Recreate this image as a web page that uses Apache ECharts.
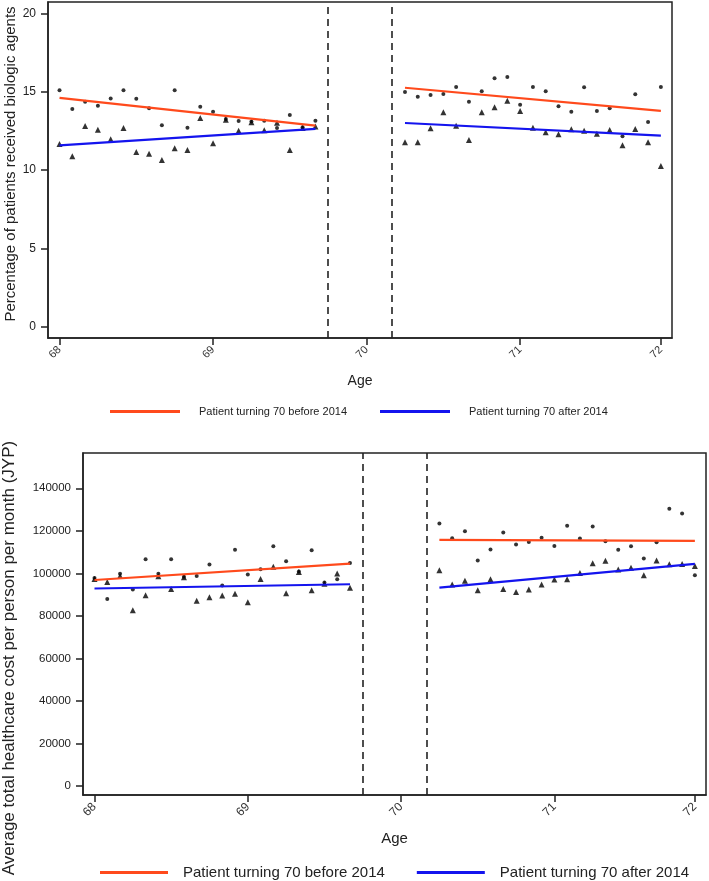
<!DOCTYPE html>
<html><head><meta charset="utf-8">
<script src="https://cdn.jsdelivr.net/npm/echarts@6/dist/echarts.min.js"></script>
<style>html,body{margin:0;padding:0;background:#fff}#c{width:709px;height:881px}</style>
</head><body><div id="c"></div>
<script>
// x values are month index since age 68 (monthly bins)
const monthsBefore = [0,1,2,3,4,5,6,7,8,9,10,11,12,13,14,15,16,17,18,19,20];
const monthsAfter = [27,28,29,30,31,32,33,34,35,36,37,38,39,40,41,42,43,44,45,46,47];
const tickPositions = [0,12,24,36,47];
const tickLabels = ['68','69','70','71','72'];
const cutoffs = [21,26];
const fitMonthsBefore = [0,20];
const fitMonthsAfter = [27,47];
const seriesNames = ['Patient turning 70 before 2014','Patient turning 70 after 2014'];

// Panel 1: percentage receiving biologic agents
const pctTicks = [0,5,10,15,20];
const pctDotBefore = [15.09,13.89,14.36,14.10,14.57,15.09,14.55,13.94,12.85,15.09,12.70,14.04,13.72,13.25,13.13,13.10,13.15,12.68,13.51,12.72,13.15];
const pctTriBefore = [11.66,10.87,12.81,12.57,11.96,12.68,11.15,11.04,10.64,11.38,11.28,13.32,11.70,13.20,12.51,13.05,12.53,13.02,11.28,12.68,12.77];
const pctDotAfter = [14.98,14.68,14.79,14.85,15.30,14.36,15.02,15.85,15.94,14.17,15.30,15.02,14.07,13.72,15.28,13.77,13.94,12.15,14.83,13.06,15.30];
const pctTriAfter = [11.77,11.77,12.66,13.68,12.83,11.91,13.68,14.00,14.42,13.77,12.70,12.41,12.28,12.60,12.51,12.32,12.55,11.58,12.62,11.77,10.26];
const pctFitOrangeBefore = [14.60,12.83];
const pctFitBlueBefore = [11.57,12.62];
const pctFitOrangeAfter = [15.25,13.77];
const pctFitBlueAfter = [13.00,12.19];

// Panel 2: average total healthcare cost
const costTicks = [0,20000,40000,60000,80000,100000,120000,140000];
const costDotBefore = [97800,88000,99800,92400,106700,99800,106700,98400,98800,104200,94300,111100,99500,102000,112800,105700,100900,110900,95700,97200,104900];
const costTriBefore = [97300,96000,98800,82700,89700,98700,92700,98200,87100,88800,89600,90400,86400,97400,103100,90700,100700,92100,95100,99900,93300];
const costDotAfter = [123500,116500,119800,106100,111200,119200,113600,114700,116700,112900,122400,116400,122000,115100,111100,112800,107000,114600,130400,128200,99100];
const costTriAfter = [101500,94800,96500,92100,97200,92600,91300,92400,94800,97100,97200,100200,104800,105900,101800,102700,99100,106000,104300,104400,103500];
const costFitOrangeBefore = [96900,104600];
const costFitBlueBefore = [92900,94900];
const costFitOrangeAfter = [115800,115300];
const costFitBlueAfter = [93300,104500];

const ORANGE = '#FF4A1C', BLUE = '#1414EE';
const FONT = 'Liberation Sans';
const zip = (xs, ys) => xs.map((x,i)=>[x, ys[i]]);

function xAxisFor(gi, labelSize){
  return {
    type:'value', gridIndex:gi, min:-0.9, max:47.87,
    axisLine:{show:true, onZero:false, lineStyle:{color:'#222', width:1.5}},
    axisTick:{show:true, customValues:tickPositions, length:7, lineStyle:{color:'#222', width:1.5}},
    axisLabel:{show:true, customValues:tickPositions, rotate:45, fontSize:labelSize, fontFamily:FONT, color:'#333', margin:10,
      formatter:(v)=>{const i=tickPositions.indexOf(Math.round(v)); return i>=0?tickLabels[i]:'';}},
    splitLine:{show:false}
  };
}
function yAxisFor(gi, min, max, ticks, fs){
  return {
    type:'value', gridIndex:gi, min:min, max:max,
    axisLine:{show:true, onZero:false, lineStyle:{color:'#222', width:1.5}},
    axisTick:{show:true, customValues:ticks, length:7, lineStyle:{color:'#222', width:1.5}},
    axisLabel:{show:true, customValues:ticks, fontSize:fs, fontFamily:FONT, color:'#222', margin:12,
      formatter:(v)=>String(Math.round(v))},
    splitLine:{show:false}
  };
}
function scatter(idx, data, sym, size){
  return {type:'scatter', xAxisIndex:idx, yAxisIndex:idx, data:data, symbol:sym, symbolSize:size,
    itemStyle:{color:'#000'}, silent:true, z:3};
}
function fit(idx, name, xs, ys, color){
  return {type:'line', name:name, xAxisIndex:idx, yAxisIndex:idx, data:zip(xs, ys), symbol:'none',
    lineStyle:{color:color, width:2.2}, itemStyle:{color:color}, z:4, silent:true};
}
function cutLines(idx){
  return {type:'line', xAxisIndex:idx, yAxisIndex:idx, data:[], silent:true,
    markLine:{symbol:['none','none'], silent:true, label:{show:false},
      lineStyle:{color:'#222', type:[7,5], width:1.6},
      data:cutoffs.map(c=>({xAxis:c}))}};
}

const chart = echarts.init(document.getElementById('c'), null, {renderer:'canvas'});
chart.setOption({
  backgroundColor:'#fff',
  animation:false,
  grid:[
    {left:48, top:2, width:624, height:336, show:true, borderColor:'#222', borderWidth:1.5, backgroundColor:'transparent'},
    {left:83, top:453, width:623, height:342, show:true, borderColor:'#222', borderWidth:1.5, backgroundColor:'transparent'}
  ],
  xAxis:[
    Object.assign(xAxisFor(0, 11), {name:'Age', nameLocation:'middle', nameGap:36, nameMoveOverlap:false, nameTextStyle:{fontSize:14, fontFamily:FONT, color:'#222'}}),
    Object.assign(xAxisFor(1, 12), {name:'Age', nameLocation:'middle', nameGap:36, nameMoveOverlap:false, nameTextStyle:{fontSize:15, fontFamily:FONT, color:'#222'}})
  ],
  yAxis:[
    yAxisFor(0, -0.72, 20.72, pctTicks, 12),
    yAxisFor(1, -4200, 156600, costTicks, 11.5)
  ],
  legend:[
    {data:seriesNames, left:105, top:401, icon:'rect', itemWidth:70, itemHeight:3, itemGap:33,
      textStyle:{fontSize:11, fontFamily:FONT, color:'#222', padding:[0,0,0,14]}, selectedMode:false},
    {data:seriesNames, left:95, top:860, icon:'rect', itemWidth:68, itemHeight:3, itemGap:32,
      textStyle:{fontSize:15, fontFamily:FONT, color:'#222', padding:[0,0,0,10]}, selectedMode:false}
  ],
  graphic:[
    {type:'text', x:11, y:164, rotation:Math.PI/2, style:{text:'Percentage of patients received biologic agents', font:'15px "Liberation Sans"', fill:'#222', align:'center', verticalAlign:'middle'}},
    {type:'text', x:9, y:658, rotation:Math.PI/2, style:{text:'Average total healthcare cost per person per month (JYP)', font:'17px "Liberation Sans"', fill:'#222', align:'center', verticalAlign:'middle'}}
  ],
  series:[
    scatter(0, zip(monthsBefore, pctDotBefore), 'circle', 4),
    scatter(0, zip(monthsBefore, pctTriBefore), 'triangle', 6),
    scatter(0, zip(monthsAfter, pctDotAfter), 'circle', 4),
    scatter(0, zip(monthsAfter, pctTriAfter), 'triangle', 6),
    fit(0, seriesNames[0], fitMonthsBefore, pctFitOrangeBefore, ORANGE),
    fit(0, seriesNames[1], fitMonthsBefore, pctFitBlueBefore, BLUE),
    fit(0, seriesNames[0], fitMonthsAfter, pctFitOrangeAfter, ORANGE),
    fit(0, seriesNames[1], fitMonthsAfter, pctFitBlueAfter, BLUE),
    cutLines(0),
    scatter(1, zip(monthsBefore, costDotBefore), 'circle', 4),
    scatter(1, zip(monthsBefore, costTriBefore), 'triangle', 6),
    scatter(1, zip(monthsAfter, costDotAfter), 'circle', 4),
    scatter(1, zip(monthsAfter, costTriAfter), 'triangle', 6),
    fit(1, seriesNames[0], fitMonthsBefore, costFitOrangeBefore, ORANGE),
    fit(1, seriesNames[1], fitMonthsBefore, costFitBlueBefore, BLUE),
    fit(1, seriesNames[0], fitMonthsAfter, costFitOrangeAfter, ORANGE),
    fit(1, seriesNames[1], fitMonthsAfter, costFitBlueAfter, BLUE),
    cutLines(1)
  ]
});
</script></body></html>
